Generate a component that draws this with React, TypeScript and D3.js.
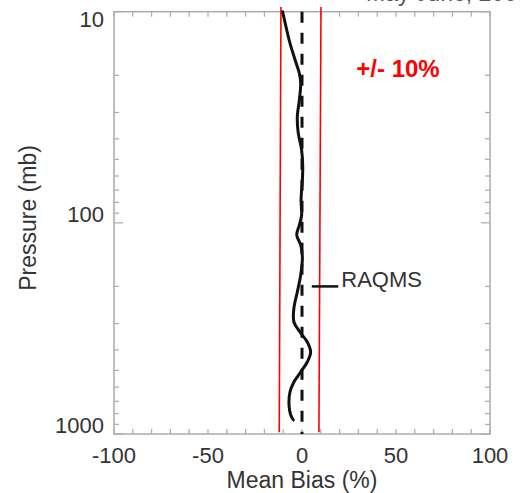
import { useEffect, useRef } from "react";
import * as d3 from "d3";

// mean bias profile (%) vs pressure (mb)
const pressure = [10, 11.8, 14.1, 16.9, 19.6, 21.8, 26.2, 31.5, 37.5, 45.2, 54.4, 62.7, 78, 91.8, 102.4, 114.2, 127.3, 146.7, 176.6, 212.6, 253.2, 294.9, 328.9, 366.7, 409, 456, 508.6, 567.1, 632.6, 729, 813.1, 858.6];
const bias = [-10.3, -8.5, -6.4, -3.7, -1.4, -0.7, -1.4, -2.5, -2.0, -0.2, 0.4, 0.2, -0.5, -0.2, -1.4, -2.8, -0.7, 0.2, -0.7, -2.5, -4.3, -4.3, -1.1, 2.8, 4.6, 2.8, -0.7, -4.3, -6.4, -6.9, -6.0, -4.6];

// +/- 10% reference lines as drawn (slightly slanted)
const limitPressure = [9.5, 980];
const lowerLimit = [-11.2, -12.1];
const upperLimit = [10.1, 9.0];

const xTicks = [-100, -50, 0, 50, 100];
const xMinorTicks = d3.range(-100, 101, 10);
const yTicks = [10, 100, 1000];
const yMinorTicks = [20, 30, 40, 50, 60, 70, 80, 90, 200, 300, 400, 500, 600, 700, 800, 900];

const seriesName = "RAQMS";
const legendPressure = 200;
const legendBias = [5.2, 19.3];

export default function App() {
    let svgRef = useRef<SVGSVGElement>(null),
        width = 520,
        height = 493;

    useEffect(() => {
        let svg = d3.select(svgRef.current);
        svg.selectAll("*").remove();

        let xScale = d3.scaleLinear().domain([-100, 100]).range([114, 490]),
            yScale = d3.scaleLog().domain([10, 1000]).range([11.7, 434]);

        const font = "'Liberation Sans', Arial, sans-serif";
        const axisColor = "#ababab";
        const textColor = "#333";

        let [x0, x1] = xScale.range();
        let [y0, y1] = yScale.range();

        // frame
        svg.append("rect")
            .attr("x", x0).attr("y", y0)
            .attr("width", x1 - x0).attr("height", y1 - y0)
            .attr("fill", "none")
            .attr("stroke", axisColor)
            .attr("stroke-width", 1.5);

        let ticks = svg.append("g").attr("stroke", axisColor).attr("stroke-width", 1.2);
        // x ticks, bottom and top, pointing inward
        xMinorTicks.forEach(t => {
            let x = xScale(t);
            ticks.append("line").attr("x1", x).attr("x2", x).attr("y1", y1).attr("y2", y1 - 5);
            ticks.append("line").attr("x1", x).attr("x2", x).attr("y1", y0).attr("y2", y0 + 5);
        });
        // y ticks, left and right
        yMinorTicks.forEach(t => {
            let y = yScale(t);
            ticks.append("line").attr("x1", x0).attr("x2", x0 + 5).attr("y1", y).attr("y2", y);
            ticks.append("line").attr("x1", x1).attr("x2", x1 - 5).attr("y1", y).attr("y2", y);
        });
        yTicks.forEach(t => {
            let y = yScale(t);
            ticks.append("line").attr("x1", x0).attr("x2", x0 + 9).attr("y1", y).attr("y2", y);
            ticks.append("line").attr("x1", x1).attr("x2", x1 - 9).attr("y1", y).attr("y2", y);
        });

        // tick labels
        svg.append("g")
            .selectAll("text")
            .data(xTicks)
            .join("text")
            .attr("x", d => xScale(d))
            .attr("y", 463)
            .attr("text-anchor", "middle")
            .attr("font-family", font)
            .attr("font-size", 22)
            .attr("fill", textColor)
            .text(d => d);

        svg.append("g")
            .selectAll("text")
            .data(yTicks)
            .join("text")
            .attr("x", 104)
            .attr("y", (d, i) => i === 0 ? yScale(d) + 15.5 : yScale(d) - 1)
            .attr("text-anchor", "end")
            .attr("font-family", font)
            .attr("font-size", 22)
            .attr("fill", textColor)
            .text(d => d);

        // axis titles
        svg.append("text")
            .attr("x", xScale(0))
            .attr("y", 488)
            .attr("text-anchor", "middle")
            .attr("font-family", font)
            .attr("font-size", 23)
            .attr("fill", textColor)
            .text("Mean Bias (%)");

        svg.append("text")
            .attr("transform", "translate(36, 218) rotate(-90)")
            .attr("text-anchor", "middle")
            .attr("font-family", font)
            .attr("font-size", 23)
            .attr("fill", textColor)
            .text("Pressure (mb)");

        // title, cut off at the top edge as in the source image
        svg.append("text")
            .attr("x", 366)
            .attr("y", 0.5)
            .attr("font-family", font)
            .attr("font-size", 23)
            .attr("fill", "#555")
            .text("May June, 2008");

        // zero line
        svg.append("line")
            .attr("x1", xScale(0)).attr("x2", xScale(0))
            .attr("y1", y0).attr("y2", y1)
            .attr("stroke", "#111")
            .attr("stroke-width", 3)
            .attr("stroke-dasharray", "11 10");

        // +/- 10% lines
        let limitLine = d3.line<number>()
            .x(d => xScale(d))
            .y((d, i) => yScale(limitPressure[i]));
        [lowerLimit, upperLimit].forEach(l => {
            svg.append("path")
                .attr("d", limitLine(l))
                .attr("fill", "none")
                .attr("stroke", "#ff0000")
                .attr("stroke-width", 1.6);
        });

        svg.append("text")
            .attr("x", 398)
            .attr("y", 77)
            .attr("text-anchor", "middle")
            .attr("font-family", font)
            .attr("font-size", 24)
            .attr("font-weight", "bold")
            .attr("fill", "#ff0000")
            .text("+/- 10%");

        // profile
        let profile = d3.line<number>()
            .x(d => xScale(d))
            .y((d, i) => yScale(pressure[i]))
            .curve(d3.curveCatmullRom);
        svg.append("path")
            .attr("d", profile(bias))
            .attr("fill", "none")
            .attr("stroke", "#111")
            .attr("stroke-width", 3)
            .attr("stroke-linecap", "round");

        // legend
        svg.append("line")
            .attr("x1", xScale(legendBias[0])).attr("x2", xScale(legendBias[1]))
            .attr("y1", yScale(legendPressure)).attr("y2", yScale(legendPressure))
            .attr("stroke", "#111")
            .attr("stroke-width", 2.5);
        svg.append("text")
            .attr("x", xScale(legendBias[1]) + 3)
            .attr("y", yScale(legendPressure) + 1)
            .attr("font-family", font)
            .attr("font-size", 22)
            .attr("fill", textColor)
            .text(seriesName);
    }, []);

    return (
        <svg
            ref={svgRef}
            width={width}
            height={height}
            viewBox={`0 0 ${width} ${height}`}
            style={{ position: "absolute", left: 0, top: 0, background: "#fff" }}
        />
    );
}
